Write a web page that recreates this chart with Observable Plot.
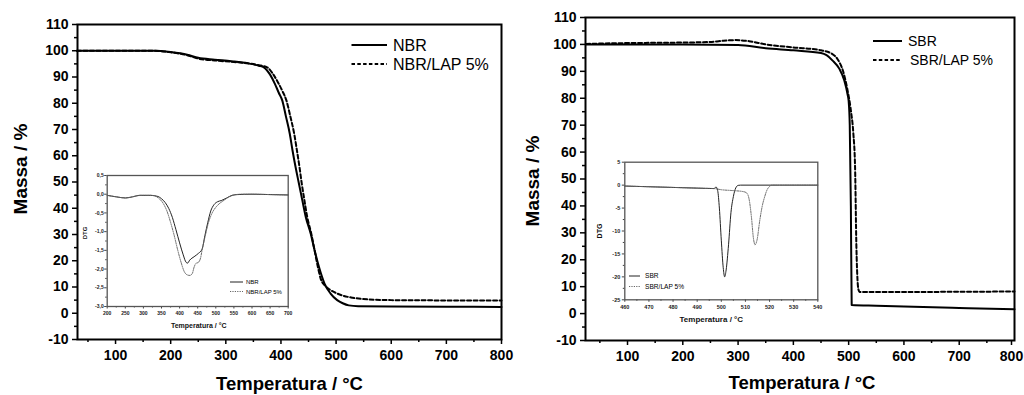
<!DOCTYPE html>
<html><head><meta charset="utf-8">
<script src="https://cdn.jsdelivr.net/npm/d3@7"></script>
<script src="https://cdn.jsdelivr.net/npm/@observablehq/plot@0.6"></script>
<style>
body{margin:0;background:#fff;}
#root{position:relative;width:1024px;height:395px;overflow:hidden;background:#fff;}
</style></head><body><div id="root"></div>
<script>
// ---------- DATA ----------
// Left main panel: TGA of NBR and NBR/LAP 5%
const nbrT = [30,100,170,200,230,250,280,310,340,360,369,380,389,396,402.5,409,416,421,426.5,432,438.8,445,454,461,469,479,490,502,512,523,540,600,700,800];
const nbrM = [100,100,100,99.5,98.5,97.3,96.6,96,95.2,94.3,93.7,91,87.4,84,81,75,68.4,62,55.7,50,43,36.7,30.3,24,17.6,11.3,7.5,5,3.8,3,2.7,2.6,2.5,2.4];
const nbrLapT = [30,100,170,200,230,250,280,310,340,360,375,386,396,403,410,417,424,429,433.6,438,442.6,447.6,455,461,467,472,480,490,500,514,530,557,600,700,800];
const nbrLapM = [100,100,100,99.4,98.3,97,96.3,95.8,95.2,94.5,93.7,91,87.4,84.5,81,75,68.4,62,55.7,49,43,36.7,30.3,24,17.6,13.2,10.5,8.8,7.7,6.6,5.9,5.3,5,4.9,4.9];

// Left inset: DTG
const dNbrT = [200,225,250,270,290,320,340,350,360,370,380,390,400,410,418,422,428,440,452,462,470,478,486,495,505,515,530,545,560,600,650,700];
const dNbrV = [-0.03,-0.07,-0.1,-0.07,-0.03,-0.03,-0.06,-0.12,-0.22,-0.38,-0.62,-0.95,-1.3,-1.62,-1.82,-1.84,-1.76,-1.67,-1.58,-1.47,-1.1,-0.75,-0.45,-0.28,-0.2,-0.17,-0.1,-0.03,-0.01,0,-0.01,-0.02];
const dNbrLapT = [200,225,250,270,290,320,335,345,355,365,375,385,395,405,412,420,428,435,440,445,452,458,462,470,480,490,500,510,520,535,550,570,600,650,700];
const dNbrLapV = [-0.03,-0.07,-0.1,-0.07,-0.03,-0.03,-0.06,-0.13,-0.25,-0.45,-0.75,-1.1,-1.5,-1.85,-2.05,-2.15,-2.17,-2.12,-1.95,-1.85,-1.82,-1.7,-1.5,-1.15,-0.75,-0.5,-0.35,-0.25,-0.18,-0.08,-0.02,0,0,-0.01,-0.02];

// Right main panel: TGA of SBR and SBR/LAP 5%
const sbrT = [25,100,200,300,350,400,450,460,471,483,492,498,500,502,504,505.5,550,600,700,800];
const sbrM = [100,100,100,99.8,98.6,97.8,96.8,96,94,91,86.7,81.5,79,70,40,3.2,2.9,2.6,2.1,1.6];
const sbrLapT = [25,70,150,200,250,270,295,320,350,400,450,470,480,490,497,504,508.5,511.6,514,517.6,520,560,700,800];
const sbrLapM = [100.2,100.4,100.6,100.7,100.9,101.3,101.6,101.2,100,98.9,97.8,96.5,94.5,90,84,75.5,66.9,54.5,25,9,8,8,8.1,8.2];

// Right inset: DTG
const dSbrT = [460,470,480,490,497,497.8,498.5,499.2,500,500.8,501.4,502,503,504,505,506,507,508,540];
const dSbrV = [-0.2,-0.35,-0.5,-0.65,-0.75,-0.4,-1.2,-5,-12,-18,-20,-18.5,-13,-6,-2.5,-0.6,-0.05,0,0];
const dSbrLapT = [460,470,480,490,497,500,505,509,510.5,511.5,512.5,513.3,514,514.8,516,517,518,519,520,521,540];
const dSbrLapV = [-0.2,-0.35,-0.5,-0.65,-0.75,-1.0,-1.2,-1.4,-1.7,-3,-7,-11.5,-13,-12,-7.5,-4.5,-2.5,-1.0,-0.3,0,0];

// Ticks & labels
const mainYMajor = d3.range(-10, 111, 10);
const mainYMinor = d3.range(-5, 110, 10);
const mainXMajor = d3.range(100, 701, 100);
const mainXLast = [800];
const mainXMinor = d3.range(50, 800, 100);
const insetLXMajor = d3.range(200, 701, 50);
const insetLXMinor = d3.range(225, 700, 50);
const insetLYMajor = [0.5,0,-0.5,-1,-1.5,-2,-2.5,-3];
const insetLYMinor = [0.25,-0.25,-0.75,-1.25,-1.75,-2.25,-2.75];
const insetRXMajor = d3.range(460, 541, 10);
const insetRXMinor = d3.range(465, 540, 10);
const insetRYMajor = [5,0,-5,-10,-15,-20,-25];
const insetRYMinor = [2.5,-2.5,-7.5,-12.5,-17.5,-22.5];

const labelMass = "Massa / %";
const labelTemp = "Temperatura / °C";
const labelDTG = "DTG";
const namesLeft = ["NBR", "NBR/LAP 5%"];
const namesRight = ["SBR", "SBR/LAP 5%"];

// ---------- DRAW ----------
const FONT = "'Liberation Sans', Arial, sans-serif";
const root = document.getElementById("root");
const rows = (T, V) => T.map((t, i) => ({t, v: V[i]}));
function place(el, left, top) {
  el.style.position = "absolute"; el.style.left = left + "px"; el.style.top = top + "px";
  root.appendChild(el);
}
const intFmt = d => String(d);

function mainPanel(o) {
  const tickText = {tickSize: 5, tickPadding: 6, tickFormat: intFmt, fontSize: 14, fontWeight: "bold", strokeWidth: 1.5, label: null};
  return Plot.plot({
    width: 512, height: 395,
    marginLeft: o.ml, marginRight: o.mr, marginTop: o.mt, marginBottom: o.mb,
    x: {domain: o.xDomain, label: null},
    y: {domain: [-10, 110], label: null},
    style: {fontFamily: FONT, background: "transparent", color: "#000", overflow: "visible"},
    marks: [
      Plot.axisY(mainYMinor, {tickSize: 3, tickFormat: () => "", strokeWidth: 1.5, label: null}),
      Plot.axisY(mainYMajor, {tickSize: 5, tickPadding: 4, tickFormat: intFmt, fontSize: 14, fontWeight: "bold", strokeWidth: 1.5, label: null}),
      Plot.axisX(mainXMinor, {tickSize: 3, tickFormat: () => "", strokeWidth: 1.5, label: null}),
      Plot.axisX(mainXMajor, tickText),
      Plot.axisX(mainXLast, {...tickText, dx: o.lastDx}),
      Plot.line(o.s1, {x: "t", y: "v", stroke: "#000", strokeWidth: 2, curve: "monotone-x"}),
      Plot.line(o.s2, {x: "t", y: "v", stroke: "#000", strokeWidth: 2, strokeDasharray: "4,2.5", curve: "monotone-x"}),
      Plot.frame({stroke: "#000", strokeWidth: 2}),
      Plot.text([labelMass], {frameAnchor: "left", rotate: -90, textAnchor: "middle", lineAnchor: "middle", dx: o.yldx, dy: o.yldy, fontSize: 19, fontWeight: "bold", fill: "#000"}),
      Plot.text([labelTemp], {frameAnchor: "bottom", textAnchor: "middle", lineAnchor: "middle", dx: o.xldx, dy: o.xldy, fontSize: 18.5, fontWeight: "bold", fill: "#000"})
    ]
  });
}

function insetPanel(o) {
  return Plot.plot({
    width: o.w, height: o.h,
    marginLeft: o.ml, marginRight: o.mr, marginTop: o.mt, marginBottom: o.mb,
    x: {domain: o.xDomain, label: null},
    y: {domain: o.yDomain, label: null},
    style: {fontFamily: FONT, background: "transparent", color: "#222", overflow: "visible"},
    marks: [
      Plot.frame({fill: "#fff", stroke: "none"}),
      Plot.axisY(o.yMinor, {tickSize: 1.5, tickFormat: () => "", label: null, stroke: "#444"}),
      Plot.axisY(o.yMajor, {tickSize: 2.5, tickPadding: o.ytp, tickFormat: o.yFmt, fontSize: o.tickFont, fontWeight: "bold", label: null, stroke: "#444"}),
      Plot.axisX(o.xMinor, {tickSize: 1.5, tickFormat: () => "", label: null, stroke: "#444"}),
      Plot.axisX(o.xMajor, {tickSize: 2.5, tickPadding: 2.5, tickFormat: intFmt, fontSize: o.tickFont, fontWeight: "bold", label: null, stroke: "#444"}),
      Plot.line(o.s1, {x: "t", y: "v", stroke: "#222", strokeWidth: 1, curve: "monotone-x"}),
      Plot.line(o.s2, {x: "t", y: "v", stroke: "#666", strokeWidth: 1, strokeDasharray: "1.2,1.2", curve: "monotone-x"}),
      Plot.frame({stroke: "#555", strokeWidth: 1.3}),
      Plot.text([labelDTG], {frameAnchor: "left", rotate: -90, textAnchor: "middle", lineAnchor: "middle", dx: o.yldx, dy: o.yldy, fontSize: o.labFont, fontWeight: "bold", fill: "#111"}),
      Plot.text([labelTemp], {frameAnchor: "bottom", textAnchor: "middle", lineAnchor: "middle", dx: o.xldx, dy: o.xldy, fontSize: o.labFont + 1, fontWeight: "bold", fill: "#111"})
    ]
  });
}

const commaFmt = d => d.toFixed(1).replace(".", ",");

place(mainPanel({
  ml: 77, mr: 11, mt: 24, mb: 56, xDomain: [31, 800], lastDx: 0,
  s1: rows(nbrT, nbrM), s2: rows(nbrLapT, nbrLapM),
  yldx: -57, yldy: -13, xldx: 0, xldy: 45
}), 0, 0);

place(mainPanel({
  ml: 73, mr: 10, mt: 17, mb: 55, xDomain: [24, 800], lastDx: -3,
  s1: rows(sbrT, sbrM), s2: rows(sbrLapT, sbrLapM),
  yldx: -53, yldy: 2, xldx: 2, xldy: 43
}), 512, 0);

place(insetPanel({
  w: 240, h: 170, ml: 46.7, mr: 12.3, mt: 10, mb: 29,
  xDomain: [200, 700], yDomain: [-3, 0.5],
  xMajor: insetLXMajor, xMinor: insetLXMinor, yMajor: insetLYMajor, yMinor: insetLYMinor,
  yFmt: commaFmt, ytp: 1, tickFont: 5,
  s1: rows(dNbrT, dNbrV), s2: rows(dNbrLapT, dNbrLapV),
  labFont: 6, yldx: -22, yldy: -8, xldx: 1, xldy: 19
}), 60, 165);

place(insetPanel({
  w: 250, h: 180, ml: 44.3, mr: 12.7, mt: 11.7, mb: 30.7,
  xDomain: [460, 540], yDomain: [-25, 5],
  xMajor: insetRXMajor, xMinor: insetRXMinor, yMajor: insetRYMajor, yMinor: insetRYMinor,
  yFmt: intFmt, ytp: 2, tickFont: 5.5,
  s1: rows(dSbrT, dSbrV), s2: rows(dSbrLapT, dSbrLapV),
  labFont: 7, yldx: -25, yldy: 0, xldx: -10, xldy: 20
}), 580, 150);

// ---------- LEGENDS ----------
const leg = d3.create("svg").attr("width", 1024).attr("height", 395)
  .style("position", "absolute").style("left", "0px").style("top", "0px")
  .style("pointer-events", "none").style("font-family", FONT);
function legend(names, o) {
  names.forEach((name, i) => {
    const y = o.y0 + i * o.dy;
    leg.append("line").attr("x1", o.x1).attr("x2", o.x2).attr("y1", y).attr("y2", y)
      .attr("stroke", o.colors[i]).attr("stroke-width", o.sw)
      .attr("stroke-dasharray", i === 0 ? null : o.dash);
    leg.append("text").attr("x", o.tx + (o.txOff ? o.txOff[i] : 0)).attr("y", y).attr("dy", "0.35em")
      .attr("font-size", o.fs).attr("fill", "#000").text(name);
  });
}
legend(namesLeft, {x1: 351.5, x2: 387, tx: 393, y0: 45, dy: 19, fs: 16, sw: 2, dash: "3.5,2.3", colors: ["#000", "#000"]});
legend(namesRight, {x1: 873, x2: 902, tx: 908, txOff: [0, 2], y0: 41, dy: 19, fs: 14, sw: 2, dash: "3.5,2.3", colors: ["#000", "#000"]});
legend(namesLeft, {x1: 230, x2: 243, tx: 246, y0: 282, dy: 9.5, fs: 6, sw: 1, dash: "1.2,1.2", colors: ["#222", "#666"]});
legend(namesRight, {x1: 629, x2: 640, tx: 645, y0: 276, dy: 10.5, fs: 6.6, sw: 1, dash: "1.2,1.2", colors: ["#222", "#666"]});
root.appendChild(leg.node());
</script>
</body></html>
